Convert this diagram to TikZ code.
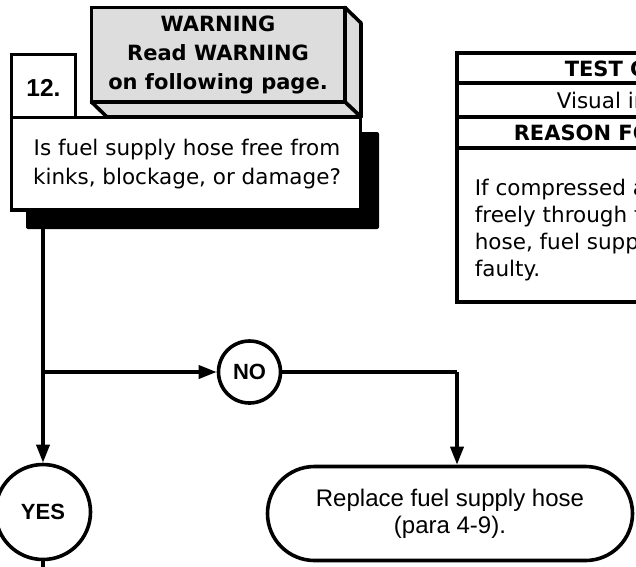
\documentclass[tikz,border=0pt]{standalone}
\usepackage{fontspec}
\setmainfont{DejaVu Sans}
\newfontfamily\narrowfont{Liberation Sans}
\usetikzlibrary{arrows.meta, positioning, shapes.geometric}
\definecolor{warngray}{RGB}{221,221,221}

\begin{document}
\begin{tikzpicture}[
                x=1pt, y=-1pt,
                line width=3.6pt,
                box/.style={draw, fill=white, line width=3.6pt, inner sep=0pt},
                face/.style={draw, fill=warngray, line width=3.6pt, line join=round},
                answer/.style={draw, circle, fill=white, line width=3.6pt, inner sep=0pt,
                    font=\narrowfont\fontsize{22}{26}\selectfont\bfseries},
                flow/.style={line width=3.6pt, -{Triangle[length=18pt, width=13pt]}},
                body/.style={font=\fontsize{21.5}{29}\selectfont, align=center},
                head/.style={anchor=base west, inner sep=0pt, font=\fontsize{21}{26}\selectfont\bfseries},
                row/.style={anchor=base west, inner sep=0pt, font=\fontsize{21.5}{26}\selectfont}
            ]
                \useasboundingbox (0,0) rectangle (636,566);
                \clip (0,0) rectangle (636,566);

                % warning block
                \draw[face] (345,7.5) -- (361,23) -- (361,117) -- (345,102) -- cycle;
                \draw[face] (91.5,102) -- (345,102) -- (361,117) -- (107,117) -- cycle;
                \node[box, fill=warngray, minimum width=253.5, minimum height=94.5] (warn) at (218.25,54.75) {};
                \node[font=\fontsize{21}{29}\selectfont\bfseries, align=center] (warntxt) at (218,55)
                    {WARNING\\Read WARNING\\on following page.};

                % step box and question
                \node[box, minimum width=64, minimum height=63] (step) at (43.5,86) {};
                \node[font=\narrowfont\fontsize{24.5}{28}\selectfont\bfseries] (stepno) at (43.5,88) {12.};
                \fill[rounded corners=2] (26,132) rectangle (379,229);
                \node[box, minimum width=349, minimum height=92.5] (quest) at (186,163.75) {};
                \node[body] (questtxt) at (187,164) {Is fuel supply hose free from\\kinks, blockage, or damage?};

                % test panel
                \draw (640,53) -- (457,53) -- (457,302) -- (640,302);
                \draw (457,83) -- (640,83);
                \draw (457,117) -- (640,117);
                \draw (457,148) -- (640,148);
                \node[head] (testc) at (563,76) {TEST C};
                \node[row] (visual) at (555,108) {Visual in};
                \node[head] (reason) at (512,140) {REASON FO};
                \node[row] (l1) at (473,195) {If compressed a};
                \node[row] (l2) at (473,222) {freely through f};
                \node[row] (l3) at (473,249) {hose, fuel supp};
                \node[row] (l4) at (473,276) {faulty.};

                % answers
                \node[answer, minimum size=62] (no) at (249.5,372) {NO};
                \node[answer, minimum size=95] (yes) at (43,512) {YES};
                \node[draw, fill=white, line width=3.6pt, rounded corners=47, minimum width=365, minimum height=94,
                    font=\narrowfont\fontsize{24}{27}\selectfont, align=center] (rep) at (450,513.5)
                    {Replace fuel supply hose\\(para 4-9).};

                \coordinate (split) at (43,372);
                \coordinate (turn) at (457,372);
                \coordinate (exit) at (43,570);

                \draw (quest.south -| split) -- (split);
                \draw[flow] (split) -- (yes);
                \draw[flow] (split) -- (no);
                \draw (no) -- (turn);
                \draw[flow] (turn) -- (rep.north -| turn);
                \draw (yes) -- (exit);
            \end{tikzpicture}
\end{document}
